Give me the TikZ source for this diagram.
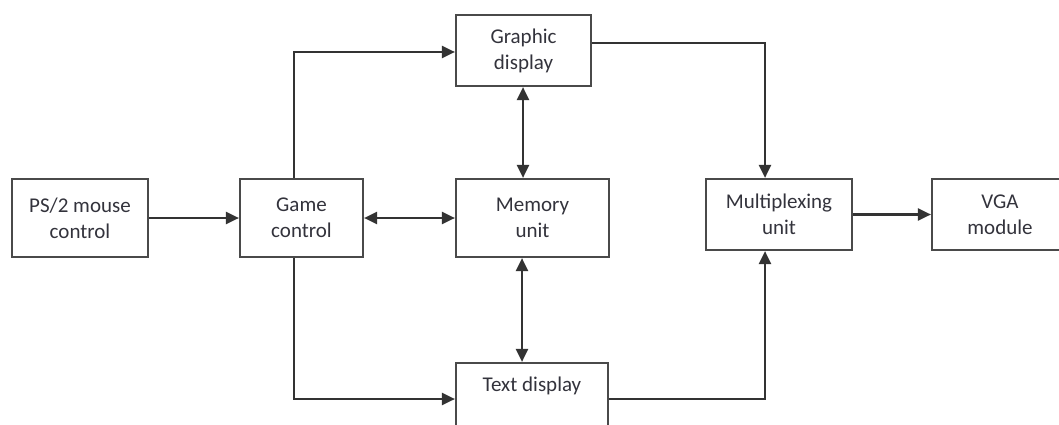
\documentclass[tikz,border=0pt]{standalone}
\usepackage{fontspec}
\setmainfont{Carlito}
\usetikzlibrary{arrows.meta,calc}
\definecolor{boxline}{HTML}{4A4A4A}
\definecolor{wire}{HTML}{333333}
\definecolor{labeltext}{HTML}{33333C}
\tikzset{
  block/.style={draw=boxline, line width=2.2pt, rectangle, align=center,
    inner sep=0pt, text=labeltext, font=\fontsize{21}{26}\selectfont},
  wireline/.style={draw=wire, line width=2.2pt},
  arr/.style={wireline, -{Triangle[length=13pt,width=12pt]}},
  biarr/.style={wireline, {Triangle[length=13pt,width=12pt]}-{Triangle[length=13pt,width=12pt]}}
}
\begin{document}
\begin{tikzpicture}[x=1pt,y=-1pt]
\useasboundingbox (0,0) rectangle (1059,425);
\clip (0,0) rectangle (1059,425);
\fill[white] (0,0) rectangle (1059,425);

% blocks
\node[block, minimum width=136pt, minimum height=78pt] (ps2) at (80,218) {PS/2 mouse\\control};
\node[block, minimum width=123pt, minimum height=78pt] (game) at (301.5,218) {Game\\control};
\node[block, minimum width=135pt, minimum height=71pt] (graphic) at (523.5,50.5) {Graphic\\display};
\node[block, minimum width=153pt, minimum height=78pt] (memory) at (532.5,218) {Memory\\unit};
\node[block, minimum width=146pt, minimum height=71pt] (mux) at (779,214.5) {Multiplexing\\unit};
\node[block, minimum width=136pt, minimum height=71pt] (vga) at (1000,214.5) {VGA\\module};
\node[block, minimum width=152pt, minimum height=72pt] (text) at (532,399) {};
\node[text=labeltext, font=\fontsize{21}{26}\selectfont] (textlbl) at (532,386) {Text display};

% vertical routing lines
\coordinate (gx) at (294,0);
\coordinate (mx) at (765,0);
\coordinate (ux) at (523,0);
\coordinate (lx) at (522,0);

% connectors
\draw[arr] (ps2.east) -- (ps2.east -| game.west);
\draw[biarr] (game.east) -- (game.east -| memory.west);
\draw[arr] (game.north -| gx) |- ([yshift=-1.5pt]graphic.west);
\draw[arr] (game.south -| gx) |- (text.west);
\draw[biarr] (graphic.south -| ux) -- (memory.north -| ux);
\draw[biarr] (memory.south -| lx) -- (text.north -| lx);
\draw[arr] ([yshift=7.5pt]graphic.east) -| (mux.north -| mx);
\draw[arr] (text.east) -| (mux.south -| mx);
\draw[arr] (mux.east) -- (mux.east -| vga.west);
\end{tikzpicture}
\end{document}
